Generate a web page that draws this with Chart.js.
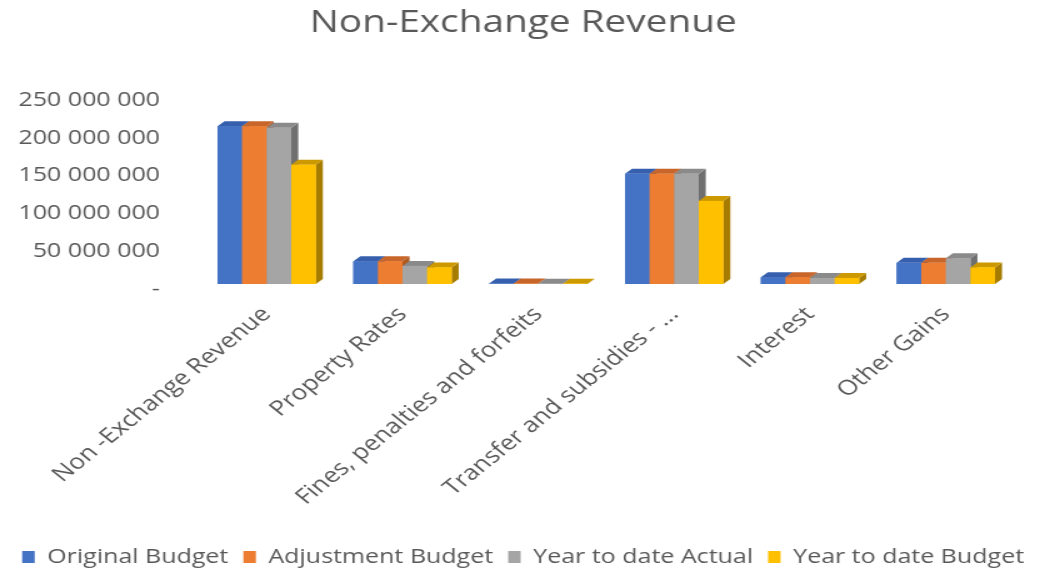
<!DOCTYPE html>
<html>
<head>
<meta charset="utf-8">
<script src="https://cdn.jsdelivr.net/npm/chart.js@4.4.0/dist/chart.umd.min.js"></script>
<style>
  html, body { margin: 0; padding: 0; background: #ffffff; overflow: hidden; }
  /* the reference is stretched sideways, so the chart is drawn narrow and scaled */
  #marco { width: 837px; height: 571px; transform: scaleX(1.25); transform-origin: 0 0; }
</style>
</head>
<body>
<div id="marco"><canvas id="graficoIngresos" width="837" height="571"></canvas></div>
<script>
// ==========================================
// DATOS
// ==========================================
const categorias = ['Non -Exchange Revenue', 'Property Rates', 'Fines, penalties and forfeits',
                    'Transfer and subsidies - ...', 'Interest', 'Other Gains'];
const series = ['Original Budget', 'Adjustment Budget', 'Year to date Actual', 'Year to date Budget'];

const originalBudget   = [209000000, 30000000, 500000, 146000000, 9000000, 28000000];
const adjustmentBudget = [209000000, 30000000, 500000, 146000000, 9000000, 28000000];
const ytdActual        = [207000000, 24000000, 400000, 146000000, 8000000, 34000000];
const ytdBudget        = [158000000, 22000000, 400000, 110000000, 8000000, 22000000];

const ticksY = [0, 50000000, 100000000, 150000000, 200000000, 250000000];

// colores: frente, tapa, lateral
const colores    = ['#4472C4', '#ED7D31', '#A5A5A5', '#FFC000'];
const coloresTop = ['#3660AE', '#C8652A', '#8A8A8A', '#CC9A00'];
const coloresLat = ['#2F5597', '#AE5A21', '#6F6F6F', '#A67C00'];

const gris = '#595959';
const fuente = '"Open Sans", "DejaVu Sans", sans-serif';

function formatoMiles(v) {
    if (v === 0) return '-';
    return String(v).replace(/\B(?=(\d{3})+(?!\d))/g, ' ');
}

// Plugin: caras superior y lateral (efecto 3D), de izquierda a derecha
const barras3D = {
    id: 'barras3D',
    afterDatasetsDraw(chart) {
        const ctx = chart.ctx;
        const dx = 5.6, dy = 5;
        ctx.save();
        for (let i = 0; i < chart.data.labels.length; i++) {
            chart.data.datasets.forEach((ds, d) => {
                const bar = chart.getDatasetMeta(d).data[i];
                const { x, y, base, width } = bar.getProps(['x', 'y', 'base', 'width'], true);
                const l = x - width / 2, r = x + width / 2;

                ctx.fillStyle = coloresLat[d];
                ctx.beginPath();
                ctx.moveTo(r, y); ctx.lineTo(r + dx, y - dy);
                ctx.lineTo(r + dx, base - dy); ctx.lineTo(r, base);
                ctx.closePath(); ctx.fill();

                ctx.fillStyle = coloresTop[d];
                ctx.beginPath();
                ctx.moveTo(l, y); ctx.lineTo(l + dx, y - dy);
                ctx.lineTo(r + dx, y - dy); ctx.lineTo(r, y);
                ctx.closePath(); ctx.fill();

                ctx.fillStyle = colores[d];
                ctx.fillRect(l, y, width, base - y);
            });
        }
        ctx.restore();
    }
};

const valores = [originalBudget, adjustmentBudget, ytdActual, ytdBudget];

const ctx = document.getElementById('graficoIngresos').getContext('2d');
new Chart(ctx, {
    type: 'bar',
    data: {
        labels: categorias,
        datasets: series.map((nombre, d) => ({
            label: nombre,
            data: valores[d],
            backgroundColor: colores[d],
            borderWidth: 0,
            barPercentage: 1.0,
            categoryPercentage: 0.724
        }))
    },
    options: {
        responsive: false,
        animation: false,
        layout: { padding: { left: 0, right: 0, top: 0, bottom: -6 } },
        plugins: {
            title: {
                display: true,
                text: 'Non-Exchange Revenue',
                color: gris,
                font: { family: fuente, size: 31, weight: 'normal' },
                padding: { top: 5, bottom: 53 }
            },
            legend: {
                position: 'bottom',
                labels: {
                    color: gris,
                    font: { family: fuente, size: 20 },
                    boxWidth: 10, boxHeight: 12,
                    padding: 12
                }
            },
            tooltip: { enabled: false }
        },
        scales: {
            x: {
                grid: { display: false, drawTicks: false },
                border: { display: false },
                ticks: {
                    color: gris, font: { family: fuente, size: 21 },
                    autoSkip: false, minRotation: 45, maxRotation: 45, padding: 18
                },
                afterFit(axis) { axis.height = 251; }
            },
            y: {
                min: 0, max: 250000000,
                grid: { display: false, drawTicks: false },
                border: { display: false },
                afterBuildTicks(axis) { axis.ticks = ticksY.map(v => ({ value: v })); },
                ticks: {
                    color: gris, font: { family: fuente, size: 20 },
                    padding: 31, labelOffset: 5,
                    callback: v => formatoMiles(v)
                },
                afterFit(axis) { axis.width = 159; }
            },
            // margen derecho del área de trazado (eje vacío)
            derecha: {
                type: 'linear', position: 'right',
                grid: { display: false, drawTicks: false },
                border: { display: false },
                ticks: { display: false },
                afterFit(axis) { axis.width = 26; }
            }
        }
    },
    plugins: [barras3D]
});
</script>
</body>
</html>
